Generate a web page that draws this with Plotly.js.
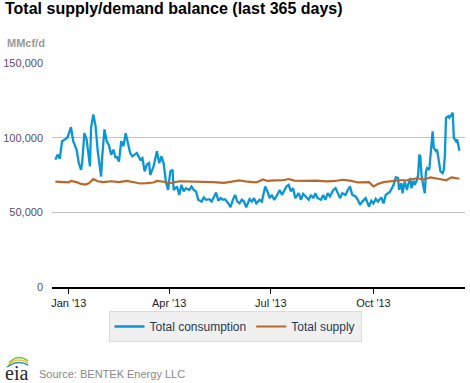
<!DOCTYPE html>
<html>
<head>
<meta charset="utf-8">
<script src="https://cdn.plot.ly/plotly-3.0.1.min.js"></script>
<style>
  html, body { margin: 0; padding: 0; background: #fff; }
  #chart { width: 470px; height: 383px; }
</style>
</head>
<body>
<div id="chart"></div>
<script>
// ---- Data (MMcf/d) ----
const consumptionDates = [
  '2012-12-20','2012-12-22','2012-12-24','2012-12-26','2012-12-29','2012-12-31',
  '2013-01-03','2013-01-05','2013-01-08','2013-01-10','2013-01-12','2013-01-13','2013-01-15','2013-01-17',
  '2013-01-20','2013-01-21','2013-01-23','2013-01-25','2013-01-27','2013-01-30','2013-01-31',
  '2013-02-02','2013-02-04','2013-02-06','2013-02-08','2013-02-10','2013-02-12','2013-02-13','2013-02-15',
  '2013-02-17','2013-02-19','2013-02-21','2013-02-23','2013-02-25','2013-02-27',
  '2013-03-01','2013-03-03','2013-03-06','2013-03-08','2013-03-10','2013-03-12','2013-03-14','2013-03-15',
  '2013-03-18','2013-03-19','2013-03-21','2013-03-23','2013-03-25','2013-03-27','2013-03-29','2013-03-31',
  '2013-04-02','2013-04-04','2013-04-05','2013-04-08','2013-04-10','2013-04-12','2013-04-14','2013-04-16',
  '2013-04-19','2013-04-21','2013-04-23','2013-04-25','2013-04-27','2013-04-30',
  '2013-05-02','2013-05-04','2013-05-07','2013-05-09','2013-05-11','2013-05-13','2013-05-15','2013-05-17',
  '2013-05-19','2013-05-21','2013-05-24','2013-05-26','2013-05-28','2013-05-30',
  '2013-06-01','2013-06-03','2013-06-05','2013-06-07','2013-06-09','2013-06-12','2013-06-14','2013-06-16',
  '2013-06-18','2013-06-21','2013-06-23','2013-06-26','2013-06-28','2013-06-30',
  '2013-07-02','2013-07-04','2013-07-06','2013-07-09','2013-07-11','2013-07-13','2013-07-15','2013-07-17',
  '2013-07-19','2013-07-21','2013-07-23','2013-07-26','2013-07-28','2013-07-30',
  '2013-08-01','2013-08-04','2013-08-06','2013-08-08','2013-08-10','2013-08-12','2013-08-15','2013-08-17',
  '2013-08-19','2013-08-21','2013-08-23','2013-08-26','2013-08-28','2013-08-30',
  '2013-09-01','2013-09-03','2013-09-06','2013-09-08','2013-09-10','2013-09-12','2013-09-15','2013-09-17',
  '2013-09-19','2013-09-21','2013-09-24','2013-09-27','2013-09-29',
  '2013-10-01','2013-10-03','2013-10-05','2013-10-08','2013-10-10','2013-10-12','2013-10-14','2013-10-16',
  '2013-10-19','2013-10-21','2013-10-23','2013-10-24','2013-10-26','2013-10-27','2013-10-29','2013-10-31',
  '2013-11-01','2013-11-03','2013-11-04','2013-11-06','2013-11-07','2013-11-09','2013-11-10','2013-11-11',
  '2013-11-12','2013-11-13','2013-11-15','2013-11-16','2013-11-17','2013-11-18','2013-11-20','2013-11-21',
  '2013-11-22','2013-11-23','2013-11-24','2013-11-26','2013-11-27','2013-11-29','2013-11-30',
  '2013-12-02','2013-12-03','2013-12-04','2013-12-05','2013-12-07','2013-12-08','2013-12-10','2013-12-11',
  '2013-12-12','2013-12-14','2013-12-15','2013-12-17'
];
const consumptionValues = [
  85300,88600,86000,97600,99000,100300,
  107000,97600,92000,83000,78500,83000,103000,99000,
  80800,106600,115500,108000,90900,74000,87500,
  105500,97600,95000,88600,92000,86400,87500,84000,
  97600,94300,103000,96500,89800,87500,
  88600,89800,85300,86400,77400,82000,83000,75000,
  80800,84000,90900,83000,87500,83000,70700,65000,
  77400,78500,65000,67300,61700,68400,64000,66200,
  65000,67300,65000,64000,58400,57200,
  60000,58400,58800,57200,60000,63300,57800,59500,
  58400,58800,56000,53400,58400,61700,
  57200,56000,58400,57200,53400,58800,57200,59500,
  56000,58400,57200,67300,64000,59500,
  61700,58400,60600,65000,61700,65000,67300,68400,
  64000,66200,59500,62800,58400,62400,
  60600,58400,61700,59500,62800,59500,58400,61700,
  58400,62800,60600,65000,66200,62400,
  59500,62800,61700,65000,67300,61700,60600,58400,
  55000,57200,59500,53800,57800,
  56000,59000,57200,60000,56000,61700,62800,64000,
  68400,73400,73000,65000,69600,62800,70700,65000,
  68400,73000,66200,71100,68400,71800,75000,88600,
  87500,75000,66200,62800,77400,79600,78500,86400,
  96500,104300,93200,91000,92000,84000,77400,
  76300,78500,88600,113300,114400,113300,115500,116700,
  99900,97600,98800,91300
];

const supplyDates = [
  '2012-12-20','2012-12-26','2013-01-01','2013-01-03','2013-01-08','2013-01-12','2013-01-16','2013-01-19',
  '2013-01-23','2013-01-27','2013-02-01','2013-02-08','2013-02-15','2013-02-22','2013-03-01','2013-03-06',
  '2013-03-12','2013-03-18','2013-03-21','2013-03-27','2013-03-31','2013-04-04','2013-04-10','2013-04-20',
  '2013-04-30','2013-05-10','2013-05-20','2013-05-28','2013-06-03','2013-06-10','2013-06-18','2013-06-24',
  '2013-06-28','2013-07-05','2013-07-12','2013-07-17','2013-07-22','2013-08-01','2013-08-10','2013-08-20',
  '2013-08-28','2013-09-03','2013-09-10','2013-09-17','2013-09-24','2013-09-27','2013-10-01','2013-10-05',
  '2013-10-10','2013-10-17','2013-10-24','2013-11-01','2013-11-09','2013-11-15','2013-11-21','2013-11-28',
  '2013-12-05','2013-12-10','2013-12-17'
];
const supplyValues = [
  70500,70300,70000,71000,70200,69000,68600,69500,
  72200,70800,70300,70800,70300,71000,70300,69300,
  69500,70000,71000,70500,69600,69800,70800,70700,
  70600,70200,69700,70500,71400,70500,70000,72000,
  71000,71400,71500,72300,71200,71000,71300,70700,
  71000,71800,71200,70000,69900,70200,67300,69000,
  70200,71000,71500,71600,72800,72000,73400,72500,
  71500,73400,72500
];

const seriesNames = ['Total consumption', 'Total supply'];
const tickDates = ['2013-01-01', '2013-04-01', '2013-07-01', '2013-10-01'];
const tickLabels = ["Jan '13", "Apr '13", "Jul '13", "Oct '13"];
const yTicks = [0, 50000, 100000, 150000];
const yTickLabels = ['0', '50,000', '100,000', '150,000'];

const FONT = '"Liberation Sans", Arial, sans-serif';

// paper-coordinate helpers for layout decorations (plot area 52..465 x, 287..63 y)
const PX0 = 52, PX1 = 465, PY0 = 287, PY1 = 63;
const px = v => (v - PX0) / (PX1 - PX0);
const py = v => (PY0 - v) / (PY0 - PY1);
const arc = (x0, y0, cx, cy, x1, y1) =>
  `M ${px(x0)},${py(y0)} Q ${px(cx)},${py(cy)} ${px(x1)},${py(y1)}`;

const traces = [
  {
    x: consumptionDates, y: consumptionValues, name: seriesNames[0],
    type: 'scatter', mode: 'lines',
    line: { color: '#0a96d6', width: 2.3 }
  },
  {
    x: supplyDates, y: supplyValues, name: seriesNames[1],
    type: 'scatter', mode: 'lines',
    line: { color: '#b9682c', width: 2.2 }
  }
];

const layout = {
  width: 470, height: 383,
  margin: { l: 52, r: 5, t: 63, b: 96 },
  paper_bgcolor: '#ffffff', plot_bgcolor: '#ffffff',
  font: { family: FONT, size: 11, color: '#333' },
  title: {
    text: '<b>Total supply/demand balance (last 365 days)</b>',
    font: { family: FONT, size: 16, color: '#000' },
    x: 5 / 470, xref: 'container', xanchor: 'left',
    y: 1 - 3 / 383, yref: 'container', yanchor: 'top',
    pad: { t: 0, l: 0 }
  },
  xaxis: {
    type: 'date',
    range: ['2012-12-17', '2013-12-22'],
    tickvals: tickDates, ticktext: tickLabels,
    showgrid: false, zeroline: false,
    showline: true, linecolor: '#000', linewidth: 1.5,
    ticks: 'outside', ticklen: 5, tickcolor: '#000', tickwidth: 1,
    tickfont: { family: FONT, size: 11, color: '#222' }
  },
  yaxis: {
    range: [0, 150000],
    tickvals: yTicks, ticktext: yTickLabels,
    showgrid: true, gridcolor: '#c4c4c4', gridwidth: 1,
    zeroline: false, showline: false, ticks: '',
    ticklabelstandoff: 8,
    tickfont: { family: FONT, size: 11, color: '#5a4d6e' }
  },
  showlegend: true,
  legend: {
    orientation: 'h',
    x: px(235), xanchor: 'center', xref: 'paper',
    y: py(311), yanchor: 'top', yref: 'paper',
    bgcolor: '#f0f0f0', bordercolor: '#dcdcdc', borderwidth: 1,
    font: { family: FONT, size: 12, color: '#2b3a55' },
    itemwidth: 30, tracegroupgap: 0
  },
  annotations: [
    {
      text: '<b>MMcf/d</b>', xref: 'paper', yref: 'paper',
      x: px(5), y: py(43), xanchor: 'left', yanchor: 'middle',
      showarrow: false, font: { family: FONT, size: 11, color: '#999' }
    },
    {
      text: 'Source: BENTEK Energy LLC', xref: 'paper', yref: 'paper',
      x: px(37), y: py(374), xanchor: 'left', yanchor: 'middle',
      showarrow: false, font: { family: FONT, size: 11, color: '#888' }
    },
    {
      text: 'eia', xref: 'paper', yref: 'paper',
      x: px(3), y: py(373), xanchor: 'left', yanchor: 'middle',
      showarrow: false, font: { family: '"Liberation Serif", "DejaVu Serif", serif', size: 20, color: '#2a2a2a' }
    }
  ],
  shapes: [
    { type: 'path', xref: 'paper', yref: 'paper', path: arc(9, 363, 18, 353, 28, 361), line: { color: '#7cc142', width: 1.5 } },
    { type: 'path', xref: 'paper', yref: 'paper', path: arc(8, 365, 18, 356, 28, 363), line: { color: '#f2c12e', width: 1.5 } },
    { type: 'path', xref: 'paper', yref: 'paper', path: arc(7, 367, 18, 359, 28, 365), line: { color: '#1a8fd0', width: 1.5 } }
  ]
};

Plotly.newPlot('chart', traces, layout, { staticPlot: true, displayModeBar: false });
</script>
</body>
</html>
